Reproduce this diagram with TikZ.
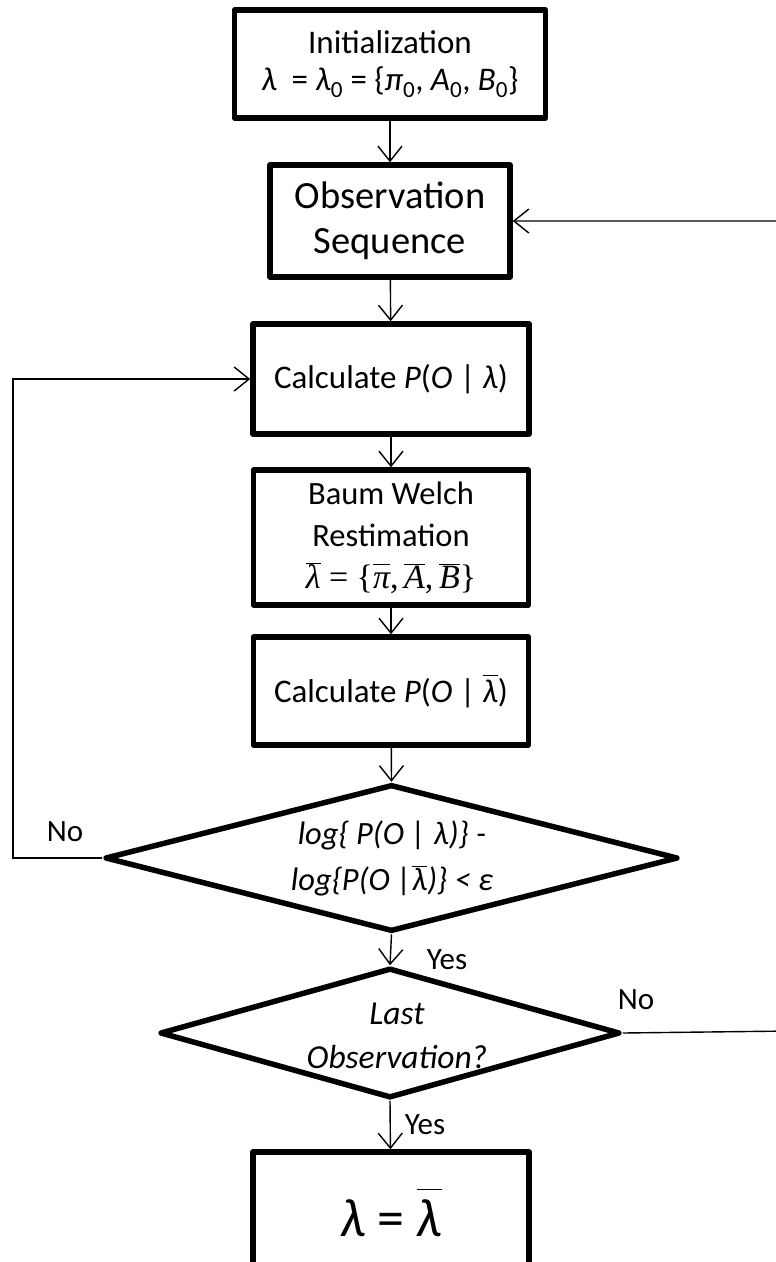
\documentclass[tikz,border=0pt]{standalone}
\usepackage{fontspec}
\setmainfont{Carlito}
\newfontfamily\serifm{Liberation Serif}
\usetikzlibrary{shapes.geometric,arrows.meta}

% italic lambda with a bar over it
\newcommand{\lambar}{\ensuremath{\overline{\hbox{\itshape λ}}}}
% italic symbol with a bar raised by the given amount
\newcommand{\highbar}[2]{\ensuremath{\overline{\hbox{\raisebox{0pt}[\dimexpr\height+#2\relax]{#1}}}}}
% barred italic symbol in the serif face, bars at one common height
\newcommand{\sbar}[1]{\ensuremath{\overline{\hbox{\serifm\itshape\vphantom{A}#1}}}}

\begin{document}
\begin{tikzpicture}[x=1pt,y=-1pt,
  box/.style={draw, line width=5.5pt, line join=round, inner sep=2pt,
              align=center, font=\fontsize{33}{40}\selectfont},
  decision/.style={draw, diamond, line width=5.5pt, line join=round, inner sep=0pt},
  dtext/.style={align=center, inner sep=0pt, font=\fontsize{32.5}{46}\selectfont\itshape},
  flow/.style={line width=1.4pt,
               -{Straight Barb[length=15pt,width=24pt,line width=1.4pt]}},
  lbl/.style={inner sep=0pt, font=\fontsize{31}{36}\selectfont}
]
\useasboundingbox (0,0) rectangle (776,1262);

% process boxes
\node[box, minimum width=311pt, minimum height=108pt] (init) at (390,64)
  {Initialization\\[-3pt]
   {\itshape λ}\ \ = {\itshape λ}\textsubscript{0} = \{{\itshape π}\textsubscript{0},
   {\itshape A}\textsubscript{0}, {\itshape B}\textsubscript{0}\}};
\node[box, minimum width=240pt, minimum height=112pt,
      font=\fontsize{38.5}{45}\selectfont] (obs) at (390,221)
  {Observation\\Sequence};
\node[box, minimum width=276pt, minimum height=110pt] (calc1) at (391,379)
  {Calculate {\itshape P}({\itshape O} | {\itshape λ})};
\node[box, minimum width=275pt, minimum height=135pt,
      font=\fontsize{32.5}{42}\selectfont] (baum) at (391,537.5)
  {Baum Welch\\Restimation\\
   {\fontsize{34}{42}\selectfont\serifm
    \lambar{} = \{\sbar{π},\,\sbar{A},\,\sbar{B}\}}};
\node[box, minimum width=275pt, minimum height=108pt] (calc2) at (391,691)
  {Calculate {\itshape P}({\itshape O} | \highbar{\itshape λ}{3pt})};

% decisions
\node[decision, minimum width=573pt, minimum height=147pt] (dec1) at (391.5,858) {};
\node[dtext] (dec1t) at (392,858)
  {log\{ P(O | λ)\} -\\log\{P(O |\lambar)\} < ε};
\node[decision, minimum width=460pt, minimum height=130pt] (dec2) at (390,1033) {};
\node[dtext, font=\fontsize{33.5}{44}\selectfont\itshape] (dec2t) at (397,1036)
  {Last\\Observation?};

% result
\node[box, minimum width=276pt, minimum height=122pt] (final) at (391,1213)
  {\fontsize{54}{60}\selectfont{\itshape λ} = \highbar{\itshape λ}{9pt}};

% main flow
\draw[flow] (init) -- (obs);
\draw[flow] (obs) -- (calc1);
\draw[flow] (calc1) -- (baum);
\draw[flow] (baum) -- (calc2);
\draw[flow] (calc2) -- (dec1.north);
\draw[flow] (dec1.south) -- (dec2.north);
\draw[flow] (dec2.south) -- (final);

% loops back
\coordinate (leftrail) at (13,858);
\draw[flow] (dec1.west) -- (leftrail) |- (calc1.west);
\coordinate (rightrail) at (790,1031);
\draw[flow] (dec2.east) -- (rightrail) |- (obs.east);

% branch labels
\node[lbl] (no1) at (65,832) {No};
\node[lbl] (yes1) at (447,960) {Yes};
\node[lbl] (no2) at (636,1000) {No};
\node[lbl] (yes2) at (425,1125) {Yes};
\end{tikzpicture}
\end{document}
